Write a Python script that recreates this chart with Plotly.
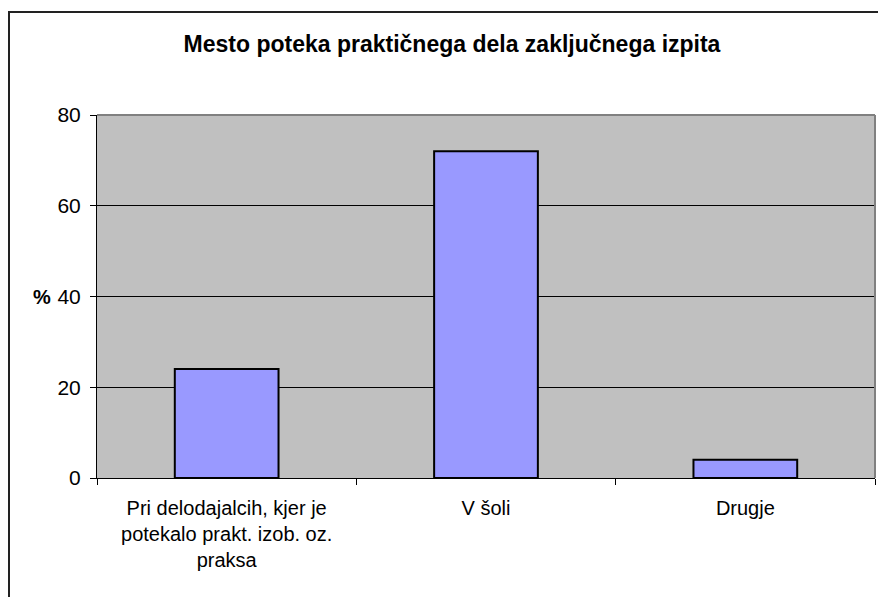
import plotly.graph_objects as go

categories = ["Pri delodajalcih, kjer je<br>potekalo prakt. izob. oz.<br>praksa", "V šoli", "Drugje"]
values = [24, 72, 4]
y_ticks = [0, 20, 40, 60, 80]
title_text = "Mesto poteka praktičnega dela zaključnega izpita"
y_label = "%"

FONT = "Liberation Sans, Arial, sans-serif"

fig = go.Figure()
fig.add_trace(go.Bar(
    x=categories, y=values,
    marker=dict(color="#9999FF", line=dict(color="black", width=2)),
    hoverinfo="skip",
))

OFF = 8  # page body offset
W, H = 878, 589
# target screen positions of the plot area
SL, SR, ST, SB = 97, 875, 115, 478
L = SL - OFF
R = W + OFF - SR
T = ST - OFF
B = H + OFF - SB
pw, ph = W - L - R, H - T - B

def px(x):
    return (x - SL) / pw

def py(y):
    return (SB - y) / ph

fig.update_layout(
    width=W, height=H,
    margin=dict(l=L, r=R, t=T, b=B),
    paper_bgcolor="white",
    plot_bgcolor="#C0C0C0",
    bargap=0.6,
    showlegend=False,
    font=dict(family=FONT, size=20, color="black"),
    title=dict(
        text=title_text,
        x=px(452), xref="paper", xanchor="center",
        y=1 - (44 - OFF) / H, yref="container", yanchor="middle",
        font=dict(family=FONT, size=23, color="black", weight="bold"),
    ),
    xaxis=dict(
        showline=True, linecolor="black", linewidth=1,
        ticks="outside", tickson="boundaries", ticklen=6, tickcolor="black",
        tickfont=dict(family=FONT, size=20, color="black"),
        ticklabelstandoff=12,
        showgrid=False, zeroline=False,
    ),
    yaxis=dict(
        range=[0, 80], tickvals=y_ticks,
        showline=True, linecolor="black", linewidth=1,
        ticks="outside", ticklen=6, tickcolor="black",
        tickfont=dict(family=FONT, size=21, color="black"),
        ticklabelstandoff=5,
        showgrid=True, gridcolor="black", gridwidth=1, zeroline=False,
    ),
    shapes=[
        dict(type="line", xref="paper", yref="paper", x0=0, x1=1, y0=1, y1=1,
             line=dict(color="#808080", width=2)),
        dict(type="line", xref="paper", yref="paper", x0=1, x1=1, y0=0, y1=1,
             line=dict(color="#808080", width=2)),
        dict(type="rect", xref="paper", yref="paper",
             x0=px(9), x1=px(910), y0=py(12), y1=py(640),
             line=dict(color="#222222", width=2), fillcolor="rgba(0,0,0,0)"),
    ],
    annotations=[
        dict(text=y_label, xref="paper", yref="paper", x=px(42), y=py(297),
             xanchor="center", yanchor="middle", showarrow=False,
             font=dict(family=FONT, size=20, color="black", weight="bold")),
    ],
)

fig.write_html("out.html")
